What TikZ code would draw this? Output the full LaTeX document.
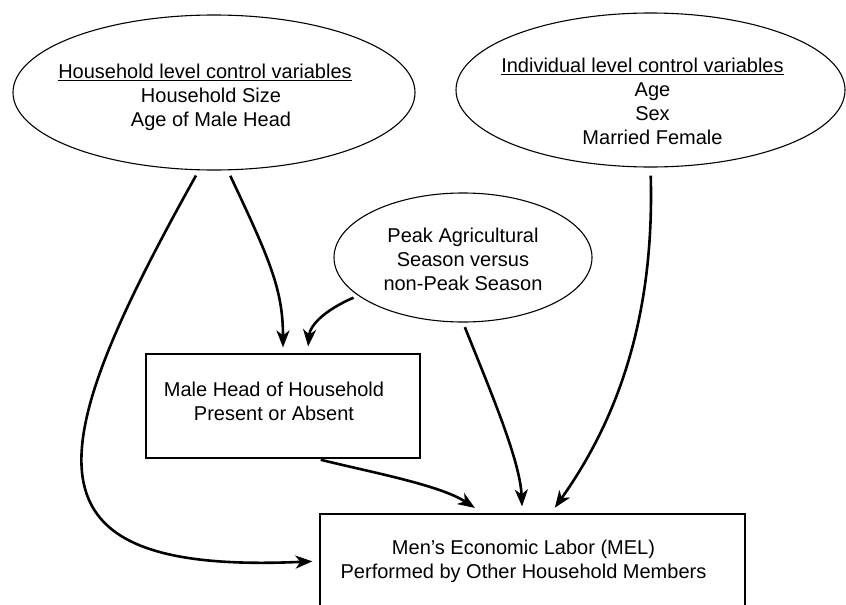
\documentclass[tikz,border=0pt]{standalone}
\usepackage{fontspec}
\setmainfont{Liberation Sans}
\usepackage{tikz}
\usetikzlibrary{shapes.geometric, arrows.meta, positioning}

\begin{document}
\begin{tikzpicture}[x=1pt, y=-1pt,
    varoval/.style={ellipse, draw, line width=1.1pt, inner sep=0pt},
    outbox/.style={rectangle, draw, line width=1.1pt, inner sep=0pt},
    txt/.style={align=center, inner sep=0pt, font=\fontsize{20}{24}\selectfont},
    link/.style={line width=2.6pt, -{Stealth[length=17pt, width=13pt, inset=5pt]}, shorten <=6pt, shorten >=7pt}
]
\useasboundingbox (0,0) rectangle (846,605);
\clip (0,0) rectangle (846,605);

% Control variables
\node[varoval, minimum width=402pt, minimum height=155pt,
    label={[txt, xshift=-3pt, yshift=-5pt]center:{\underline{Household level control variables}\hspace*{12pt}\\Household Size\\Age of Male Head}}] (hh) at (214,92.5) {};
\node[varoval, minimum width=389pt, minimum height=154pt,
    label={[txt, xshift=2pt, yshift=-11pt]center:{\underline{Individual level control variables}\hspace*{20pt}\\Age\\Sex\\Married Female}}] (ind) at (650.5,90) {};
\node[varoval, minimum width=258pt, minimum height=129pt,
    label={[txt, yshift=-2pt]center:{Peak Agricultural\\Season versus\\non-Peak Season}}] (peak) at (463,257.5) {};

% Boxes
\node[outbox, minimum width=274pt, minimum height=104pt,
    label={[txt, xshift=-9pt, yshift=5pt]center:{Male Head of Household\\Present or Absent}}] (male) at (283,406) {};
\node[outbox, minimum width=425pt, minimum height=94pt,
    label={[txt, xshift=-9pt]center:{Men's Economic Labor (MEL)\\Performed by Other Household Members}}] (mel) at (532.5,561) {};

% Arrows
\draw[link] (hh.259) .. controls (40,455) and (15,575) .. (mel.west);
\draw[link, shorten >=6pt] (hh.280) .. controls (270,260) and (283,290) .. (male.north);
\draw[link, shorten <=5pt] (peak.200) .. controls (325,310) and (310,325) .. (male.65);
\draw[link, shorten <=5pt] (peak.south) .. controls (490,390) and (520,460) .. (mel.102);
\draw[link, shorten <=8pt] (ind.south) .. controls (655,330) and (610,430) .. (mel.69);
\draw[link, shorten <=5pt, shorten >=10pt] (male.-58) .. controls (370,472) and (440,485) .. (mel.136);

\end{tikzpicture}
\end{document}
